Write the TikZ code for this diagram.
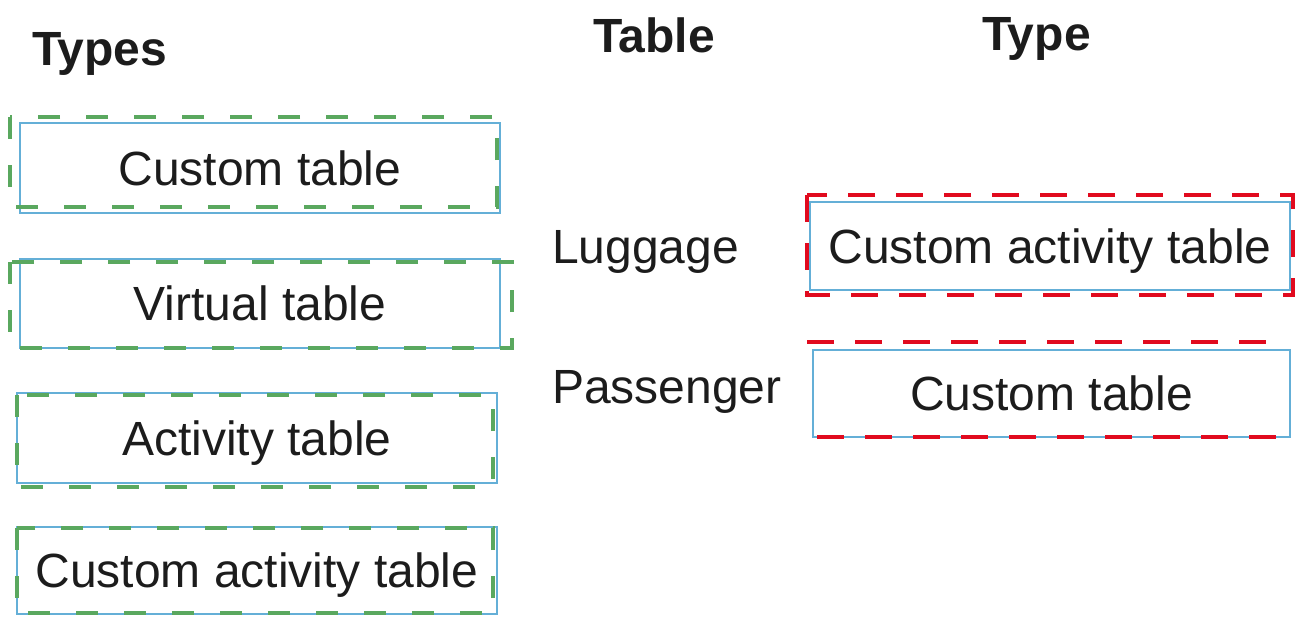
\documentclass[tikz,border=0pt]{standalone}
\usepackage{fontspec}
\setmainfont{Liberation Sans}
\definecolor{boxblue}{RGB}{100,175,215}
\definecolor{gdash}{RGB}{90,168,95}
\definecolor{rdash}{RGB}{225,10,30}
\definecolor{ink}{RGB}{28,28,28}
\begin{document}
\begin{tikzpicture}[x=1pt,y=-1pt,
  box/.style={draw=boxblue, line width=1.8pt, rectangle, inner sep=0pt,
    minimum width=480pt, text height=34pt, text depth=0pt, text=ink,
    font=\fontsize{48}{58}\selectfont},
  lbl/.style={anchor=base west, inner sep=0pt, text=ink, font=\fontsize{48}{58}\selectfont},
  hdr/.style={anchor=base west, inner sep=0pt, text=ink, font=\fontsize{48}{58}\selectfont\bfseries},
  gd/.style={draw=gdash, line width=4pt, dash pattern=on 22pt off 26pt},
  rd/.style={draw=rdash, line width=4.5pt, dash pattern=on 27pt off 21pt}]
\useasboundingbox (0,0) rectangle (1310,619);

% headers
\node[hdr] (hTypes) at (32,65) {Types};
\node[hdr] (hTable) at (593,52) {Table};
\node[hdr] (hType) at (982,50) {Type};

% left column
\node[box, minimum height=90pt] (t1) at (260,168) {Custom table};
\node[box, minimum height=89pt] (t2) at (260,303.5) {Virtual table};
\node[box, minimum height=90pt] (t3) at (257,438) {Activity table};
\node[box, minimum height=87pt] (t4) at (257,570.5) {Custom activity table};

\draw[gd] (10,117) rectangle (497,207);
\draw[gd] (10,262) rectangle (512,348);
\draw[gd] (17,395) rectangle (493,487);
\draw[gd] (17,528) rectangle (493,613);

% table names
\node[lbl] (lug) at (552,263) {Luggage};
\node[lbl] (pas) at (552,403) {Passenger};

% answers
\node[box, minimum height=88pt] (a1) at (1050,246) {Custom activity table};
\node[box, minimum height=87pt, minimum width=477pt] (a2) at (1051.5,393.5) {Custom table};

\draw[rd] (807,195) rectangle (1293,295);
\draw[rd] (807,342) -- (1270,342);
\draw[rd] (817,437) -- (1287,437);
\end{tikzpicture}
\end{document}
